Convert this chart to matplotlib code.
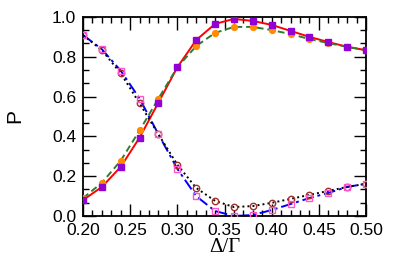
import numpy as np
import matplotlib
matplotlib.use('Agg')
import matplotlib.pyplot as plt
from matplotlib.ticker import MultipleLocator

# detuning values (Delta / Gamma)
x = [0.20, 0.22, 0.24, 0.26, 0.28, 0.30, 0.32, 0.34,
     0.36, 0.38, 0.40, 0.42, 0.44, 0.46, 0.48, 0.50]

# rising populations
p_red = [0.08, 0.146, 0.247, 0.394, 0.57, 0.747, 0.884, 0.965,
         0.99, 0.98, 0.96, 0.93, 0.90, 0.874, 0.85, 0.833]
p_green = [0.09, 0.167, 0.278, 0.43, 0.59, 0.747, 0.854, 0.92,
           0.95, 0.95, 0.934, 0.914, 0.889, 0.869, 0.85, 0.833]

# falling populations
p_black = [0.909, 0.833, 0.717, 0.566, 0.41, 0.258, 0.141, 0.076,
           0.045, 0.05, 0.066, 0.086, 0.106, 0.126, 0.146, 0.162]
p_blue = [0.909, 0.838, 0.73, 0.59, 0.41, 0.237, 0.10, 0.025,
          0.0, 0.005, 0.03, 0.06, 0.09, 0.116, 0.146, 0.162]

plt.rcParams['font.family'] = ['Liberation Sans', 'DejaVu Sans']

fig = plt.figure(figsize=(4.0, 2.78), dpi=100)
ax = fig.add_axes([0.2075, 0.223, 0.7075, 0.716])

# theory curves
ax.plot(x, p_red, color='#ff0000', lw=1.4, zorder=2)
ax.plot(x, p_green, color='#2e7d32', lw=1.4, ls=(0, (3.5, 2)), zorder=2)
ax.plot(x, p_blue, color='#0000ff', lw=1.4, ls=(0, (6, 2, 1.5, 2)), zorder=2)
ax.plot(x, p_black, color='#000000', lw=1.4, ls=(0, (1, 1.6)), zorder=2)

# simulation markers
ax.plot(x, p_green, 'o', ms=4.2, color='#ff8c00', mec='#ff8c00', ls='none', zorder=3)
ax.plot(x, p_red, 's', ms=4.6, color='#9400d3', mec='#9400d3', ls='none', zorder=3)
ax.plot(x, p_black, 'o', ms=4.6, mfc='none', mec='#a0302a', mew=1.0, ls='none', zorder=3)
ax.plot(x, p_blue, 's', ms=5.0, mfc='none', mec='#ff55cc', mew=1.0, ls='none', zorder=3)

ax.set_xlim(0.20, 0.50)
ax.set_ylim(0.0, 1.0)
ax.xaxis.set_major_locator(MultipleLocator(0.05))
ax.xaxis.set_minor_locator(MultipleLocator(0.01))
ax.yaxis.set_major_locator(MultipleLocator(0.2))
ax.yaxis.set_minor_locator(MultipleLocator(0.2 / 3))
ax.set_xticklabels([f'{v:.2f}' for v in ax.get_xticks()])
ax.set_yticklabels([f'{v:.1f}' for v in ax.get_yticks()])

ax.tick_params(which='both', direction='in', top=True, right=True,
               labelsize=12.5, width=1.0)
ax.tick_params(which='major', length=9, pad=5)
ax.tick_params(which='minor', length=4.5)
for s in ax.spines.values():
    s.set_linewidth(1.3)

ax.set_xlabel('Δ/Γ', fontsize=15, family='Liberation Serif', labelpad=0)
ax.set_ylabel('P', fontsize=15, labelpad=20)

fig.savefig('out.png', dpi=100, facecolor='white')
